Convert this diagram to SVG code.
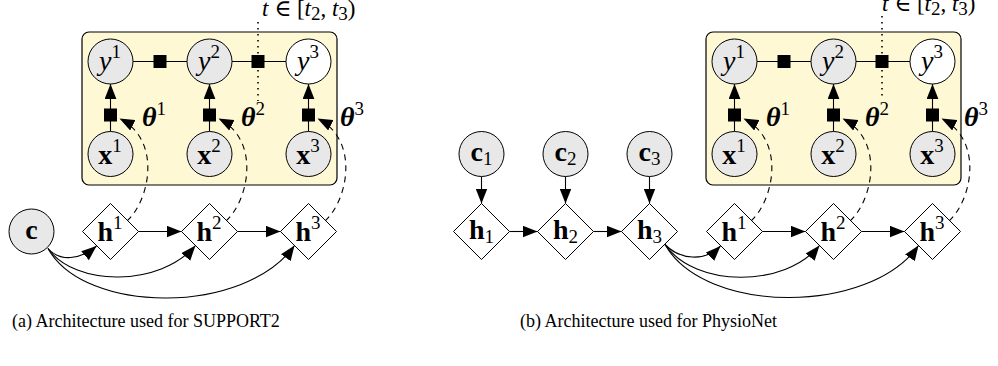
<svg xmlns="http://www.w3.org/2000/svg" width="998" height="366" viewBox="0 0 998 366">
<style>
.box{fill:#FFF8D5;stroke:#000;stroke-width:1.2}
.g{fill:#E8E8E8;stroke:#000;stroke-width:1}
.w{fill:#fff;stroke:#000;stroke-width:1}
.ln{fill:none;stroke:#000;stroke-width:1.1}
.ar{fill:none;stroke:#000;stroke-width:1.1;marker-end:url(#ah)}
.da{fill:none;stroke:#000;stroke-width:1.1;stroke-dasharray:6 5;marker-end:url(#ah)}
.dot{fill:none;stroke:#000;stroke-width:1.6;stroke-dasharray:1.6 4.4}
.sq{fill:#000}
text{font-family:"Liberation Serif","DejaVu Serif",serif;fill:#000}
.m{font-size:28px;text-anchor:middle}
.it{font-style:italic}
.b{font-weight:bold}
.bi{font-weight:bold;font-style:italic;font-size:28px}
.s{font-size:19px;font-style:normal;font-weight:normal}
.lab{font-size:23px}
.cap{font-size:18px}
</style>
<defs>
<marker id="ah" markerUnits="userSpaceOnUse" markerWidth="15" markerHeight="12" viewBox="0 0 14 11" refX="14" refY="5.5" orient="auto"><path d="M0,0 L14,5.5 L0,11 z" fill="#000"/></marker>
</defs>

<!-- ===== Panel (a) ===== -->
<g id="a-plate"><rect class="box" x="82" y="32" width="255" height="153" rx="7"/></g>

<g id="a-connectors">
<line class="ln" x1="133" y1="61.5" x2="187" y2="61.5"/>
<line class="ln" x1="232" y1="61.5" x2="286" y2="61.5"/>
<rect class="sq" x="153.5" y="55" width="13" height="13"/>
<rect class="sq" x="251.5" y="55" width="13" height="13"/>
<line class="dot" x1="258" y1="22" x2="258" y2="101"/>
<line class="ar" x1="110.5" y1="131.5" x2="110.5" y2="84"/>
<line class="ar" x1="209.5" y1="131.5" x2="209.5" y2="84"/>
<line class="ar" x1="308.5" y1="131.5" x2="308.5" y2="84"/>
<rect class="sq" x="104" y="108.5" width="13" height="13"/>
<rect class="sq" x="203" y="108.5" width="13" height="13"/>
<rect class="sq" x="302" y="108.5" width="13" height="13"/>
<path class="da" d="M127,221 C150,200 162,140 119.5,118.5"/>
<path class="da" d="M226,221 C249,200 261,140 218.5,118.5"/>
<path class="da" d="M325,221 C348,200 360,140 317.5,118.5"/>
<line class="ar" x1="138.5" y1="231.5" x2="181.5" y2="231.5"/>
<line class="ar" x1="237.5" y1="231.5" x2="280.5" y2="231.5"/>
<path class="ar" d="M48,248.5 C60,262 80,260 96.5,246"/>
<path class="ar" d="M48,248.5 C75,287 160,287 195.5,245.5"/>
<path class="ar" d="M48,248.5 C85,315 245,315 294.5,245.5"/>
</g>

<g id="a-y1"><circle class="g" cx="110.5" cy="61.5" r="22.5"/><text class="m it" x="110" y="70">y<tspan class="s" dy="-12">1</tspan></text></g>
<g id="a-y2"><circle class="g" cx="209.5" cy="61.5" r="22.5"/><text class="m it" x="209" y="70">y<tspan class="s" dy="-12">2</tspan></text></g>
<g id="a-y3"><circle class="w" cx="308.5" cy="61.5" r="22.5"/><text class="m it" x="308" y="70">y<tspan class="s" dy="-12">3</tspan></text></g>
<g id="a-x1"><circle class="g" cx="110.5" cy="154" r="22.5"/><text class="m b" x="110" y="164">x<tspan class="s" dy="-12">1</tspan></text></g>
<g id="a-x2"><circle class="g" cx="209.5" cy="154" r="22.5"/><text class="m b" x="209" y="164">x<tspan class="s" dy="-12">2</tspan></text></g>
<g id="a-x3"><circle class="g" cx="308.5" cy="154" r="22.5"/><text class="m b" x="308" y="164">x<tspan class="s" dy="-12">3</tspan></text></g>
<g id="a-theta1"><text class="bi" x="142" y="126">θ<tspan class="s" dy="-11">1</tspan></text></g>
<g id="a-theta2"><text class="bi" x="241" y="126">θ<tspan class="s" dy="-11">2</tspan></text></g>
<g id="a-theta3"><text class="bi" x="340" y="126">θ<tspan class="s" dy="-11">3</tspan></text></g>
<g id="a-label"><text class="lab" x="262" y="16"><tspan class="it">t</tspan> ∈ [<tspan class="it">t</tspan><tspan class="s" font-size="16" dy="4">2</tspan><tspan dy="-4">, </tspan><tspan class="it">t</tspan><tspan class="s" font-size="16" dy="4">3</tspan><tspan dy="-4">)</tspan></text></g>
<g id="a-c"><circle class="g" cx="31.5" cy="231.5" r="22.5"/><text class="m b" x="31.5" y="238.5">c</text></g>
<g id="a-h1"><polygon class="w" points="110.5,203.5 138.5,231.5 110.5,259.5 82.5,231.5"/><text class="m b" x="110" y="241">h<tspan class="s" dy="-12">1</tspan></text></g>
<g id="a-h2"><polygon class="w" points="209.5,203.5 237.5,231.5 209.5,259.5 181.5,231.5"/><text class="m b" x="209" y="241">h<tspan class="s" dy="-12">2</tspan></text></g>
<g id="a-h3"><polygon class="w" points="308.5,203.5 336.5,231.5 308.5,259.5 280.5,231.5"/><text class="m b" x="308" y="241">h<tspan class="s" dy="-12">3</tspan></text></g>

<!-- ===== Panel (b) ===== -->
<g id="b-plate"><rect class="box" x="706" y="32" width="255" height="153" rx="7"/></g>

<g id="b-connectors">
<line class="ln" x1="757" y1="61.5" x2="811" y2="61.5"/>
<line class="ln" x1="856" y1="61.5" x2="910" y2="61.5"/>
<rect class="sq" x="777.5" y="55" width="13" height="13"/>
<rect class="sq" x="875.5" y="55" width="13" height="13"/>
<line class="dot" x1="882" y1="16" x2="882" y2="99"/>
<line class="ar" x1="734.5" y1="131.5" x2="734.5" y2="84"/>
<line class="ar" x1="833.5" y1="131.5" x2="833.5" y2="84"/>
<line class="ar" x1="932.5" y1="131.5" x2="932.5" y2="84"/>
<rect class="sq" x="728" y="108.5" width="13" height="13"/>
<rect class="sq" x="827" y="108.5" width="13" height="13"/>
<rect class="sq" x="926" y="108.5" width="13" height="13"/>
<path class="da" d="M751,221 C774,200 786,140 743.5,118.5"/>
<path class="da" d="M850,221 C873,200 885,140 842.5,118.5"/>
<path class="da" d="M949,221 C972,200 984,140 941.5,118.5"/>
<line class="ar" x1="481.5" y1="176.5" x2="481.5" y2="203.5"/>
<line class="ar" x1="565.5" y1="176.5" x2="565.5" y2="203.5"/>
<line class="ar" x1="649.5" y1="176.5" x2="649.5" y2="203.5"/>
<line class="ar" x1="509.5" y1="231.5" x2="537.5" y2="231.5"/>
<line class="ar" x1="593.5" y1="231.5" x2="621.5" y2="231.5"/>
<line class="ar" x1="762.5" y1="231.5" x2="805.5" y2="231.5"/>
<line class="ar" x1="861.5" y1="231.5" x2="904.5" y2="231.5"/>
<path class="ar" d="M665,244.5 C680,260 705,262 720.5,246"/>
<path class="ar" d="M665,244.5 C695,288 785,288 819.5,245.5"/>
<path class="ar" d="M665,244.5 C705,315 870,315 918.5,245.5"/>
</g>

<g id="b-y1"><circle class="g" cx="734.5" cy="61.5" r="22.5"/><text class="m it" x="734" y="70">y<tspan class="s" dy="-12">1</tspan></text></g>
<g id="b-y2"><circle class="g" cx="833.5" cy="61.5" r="22.5"/><text class="m it" x="833" y="70">y<tspan class="s" dy="-12">2</tspan></text></g>
<g id="b-y3"><circle class="w" cx="932.5" cy="61.5" r="22.5"/><text class="m it" x="932" y="70">y<tspan class="s" dy="-12">3</tspan></text></g>
<g id="b-x1"><circle class="g" cx="734.5" cy="154" r="22.5"/><text class="m b" x="734" y="164">x<tspan class="s" dy="-12">1</tspan></text></g>
<g id="b-x2"><circle class="g" cx="833.5" cy="154" r="22.5"/><text class="m b" x="833" y="164">x<tspan class="s" dy="-12">2</tspan></text></g>
<g id="b-x3"><circle class="g" cx="932.5" cy="154" r="22.5"/><text class="m b" x="932" y="164">x<tspan class="s" dy="-12">3</tspan></text></g>
<g id="b-theta1"><text class="bi" x="766" y="126">θ<tspan class="s" dy="-11">1</tspan></text></g>
<g id="b-theta2"><text class="bi" x="865" y="126">θ<tspan class="s" dy="-11">2</tspan></text></g>
<g id="b-theta3"><text class="bi" x="964" y="126">θ<tspan class="s" dy="-11">3</tspan></text></g>
<g id="b-label"><text class="lab" x="882" y="11"><tspan class="it">t</tspan> ∈ [<tspan class="it">t</tspan><tspan class="s" font-size="16" dy="4">2</tspan><tspan dy="-4">, </tspan><tspan class="it">t</tspan><tspan class="s" font-size="16" dy="4">3</tspan><tspan dy="-4">)</tspan></text></g>
<g id="b-c1"><circle class="g" cx="481.5" cy="154" r="22.5"/><text class="m b" x="481.5" y="161">c<tspan class="s" dy="4">1</tspan></text></g>
<g id="b-c2"><circle class="g" cx="565.5" cy="154" r="22.5"/><text class="m b" x="565.5" y="161">c<tspan class="s" dy="4">2</tspan></text></g>
<g id="b-c3"><circle class="g" cx="649.5" cy="154" r="22.5"/><text class="m b" x="649.5" y="161">c<tspan class="s" dy="4">3</tspan></text></g>
<g id="b-h1"><polygon class="w" points="481.5,203.5 509.5,231.5 481.5,259.5 453.5,231.5"/><text class="m b" x="481.5" y="239">h<tspan class="s" dy="4">1</tspan></text></g>
<g id="b-h2"><polygon class="w" points="565.5,203.5 593.5,231.5 565.5,259.5 537.5,231.5"/><text class="m b" x="565.5" y="239">h<tspan class="s" dy="4">2</tspan></text></g>
<g id="b-h3"><polygon class="w" points="649.5,203.5 677.5,231.5 649.5,259.5 621.5,231.5"/><text class="m b" x="649.5" y="239">h<tspan class="s" dy="4">3</tspan></text></g>
<g id="b-hs1"><polygon class="w" points="734.5,203.5 762.5,231.5 734.5,259.5 706.5,231.5"/><text class="m b" x="734" y="241">h<tspan class="s" dy="-12">1</tspan></text></g>
<g id="b-hs2"><polygon class="w" points="833.5,203.5 861.5,231.5 833.5,259.5 805.5,231.5"/><text class="m b" x="833" y="241">h<tspan class="s" dy="-12">2</tspan></text></g>
<g id="b-hs3"><polygon class="w" points="932.5,203.5 960.5,231.5 932.5,259.5 904.5,231.5"/><text class="m b" x="932" y="241">h<tspan class="s" dy="-12">3</tspan></text></g>

<g id="captions">
<text class="cap" x="12" y="327">(a) Architecture used for SUPPORT2</text>
<text class="cap" x="520" y="327">(b) Architecture used for PhysioNet</text>
</g>
</svg>
